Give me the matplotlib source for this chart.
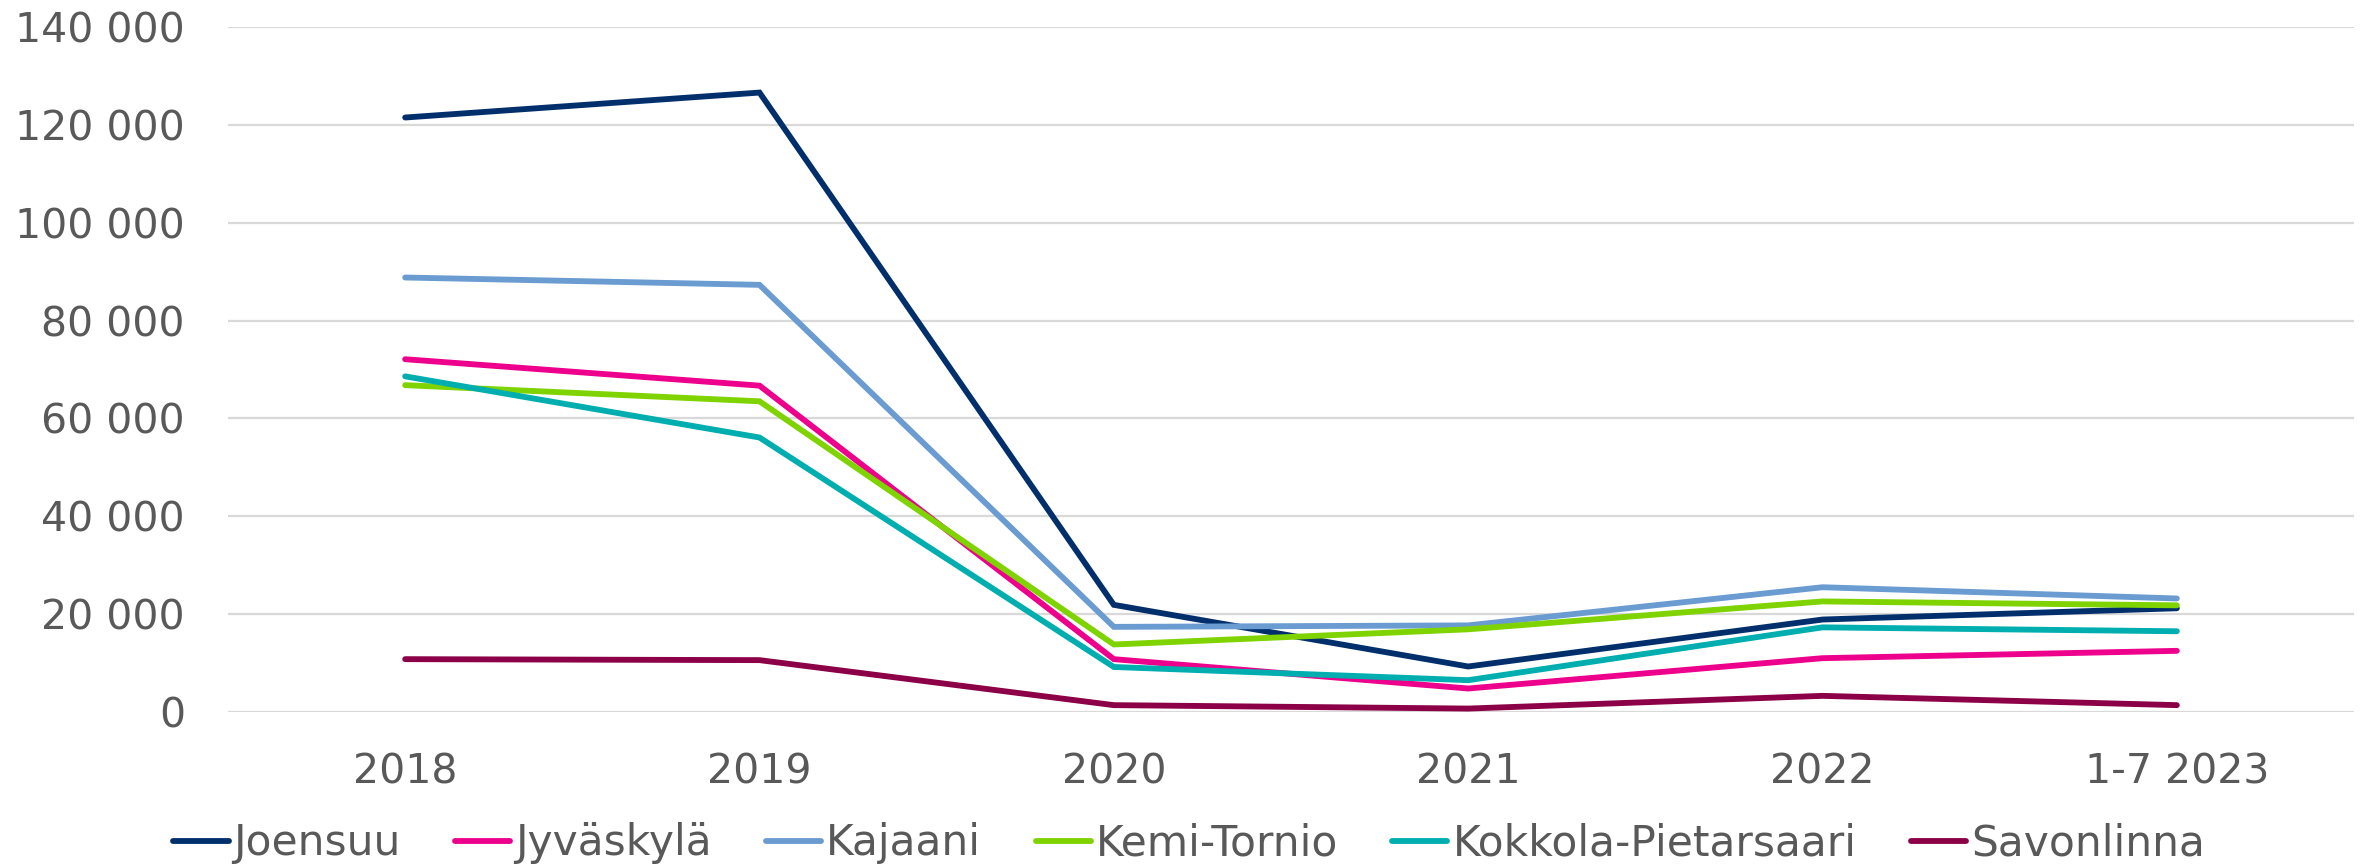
import matplotlib
matplotlib.use("Agg")
import matplotlib.pyplot as plt
from matplotlib.ticker import FuncFormatter, MultipleLocator

# data
vuodet = ["2018", "2019", "2020", "2021", "2022", "1-7 2023"]
joensuu = [121500, 126600, 21900, 9300, 18900, 21200]
jyvaskyla = [72100, 66700, 10800, 4800, 11000, 12500]
kajaani = [88800, 87300, 17400, 17700, 25500, 23200]
kemi_tornio = [66800, 63500, 13800, 16900, 22600, 21800]
kokkola = [68600, 56100, 9200, 6500, 17300, 16500]
savonlinna = [10800, 10600, 1400, 700, 3300, 1400]

sarjat = [
    ("Joensuu", joensuu, "#002F6C"),
    ("Jyväskylä", jyvaskyla, "#EC008C"),
    ("Kajaani", kajaani, "#6A9BD1"),
    ("Kemi-Tornio", kemi_tornio, "#7ED300"),
    ("Kokkola-Pietarsaari", kokkola, "#00AEB0"),
    ("Savonlinna", savonlinna, "#8B0046"),
]

plt.rcParams['font.family'] = ['DejaVu Sans']
teksti = "#595959"
koko = 29.5

fig = plt.figure(figsize=(23.64, 8.66), dpi=100)
ax = fig.add_axes([228 / 2364, 1 - 712 / 866, (2354 - 228) / 2364, (712 - 27) / 866])

x = range(len(vuodet))
for nimi, arvot, vari in sarjat:
    ax.plot(x, arvot, color=vari, lw=4.2, label=nimi, solid_capstyle="round",
            solid_joinstyle="miter")

ax.set_xlim(-0.5, len(vuodet) - 0.5)
ax.set_ylim(0, 140000)
ax.yaxis.set_major_locator(MultipleLocator(20000))
ax.yaxis.set_major_formatter(FuncFormatter(lambda v, p: f"{int(v):,}".replace(",", " ")))
ax.set_xticks(list(x))
ax.set_xticklabels(vuodet)

ax.grid(axis="y", color="#D9D9D9", lw=1.6)
ax.set_axisbelow(True)
for s in ax.spines.values():
    s.set_visible(False)
ax.tick_params(axis="both", length=0, labelsize=koko, labelcolor=teksti)
ax.tick_params(axis="x", pad=29)
ax.tick_params(axis="y", pad=31)

leg = fig.legend(loc="center", bbox_to_anchor=(0.503, 0.026), ncol=6, frameon=False,
                 fontsize=30.5, handlelength=1.3, handletextpad=0.12,
                 columnspacing=1.28, borderaxespad=0)
for t in leg.get_texts():
    t.set_color(teksti)

fig.savefig("out.png", dpi=100)
